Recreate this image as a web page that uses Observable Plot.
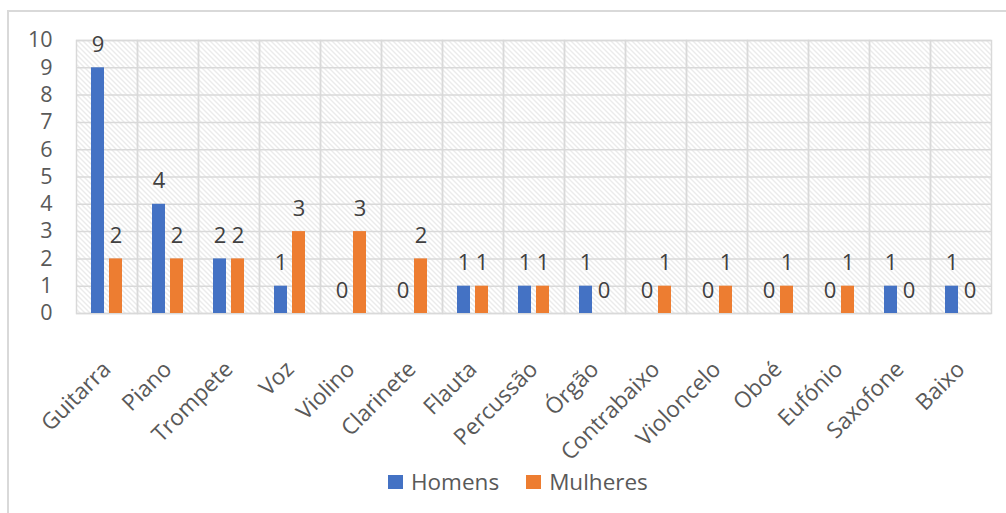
<!DOCTYPE html>
<html>
<head>
<meta charset="utf-8">
<script src="https://cdn.jsdelivr.net/npm/d3@7"></script>
<script src="https://cdn.jsdelivr.net/npm/@observablehq/plot@0.6"></script>
<style>
  html, body { margin: 0; padding: 0; background: #fff; width: 1006px; height: 513px; overflow: hidden; font-family: "Open Sans", sans-serif; }
  #frame { position: absolute; left: 7px; top: 10px; width: 1100px; height: 600px; border-left: 2px solid #d9d9d9; border-top: 2px solid #d9d9d9; }
  #chart { position: absolute; left: 0; top: 0; }
  #legend { position: absolute; left: 388px; top: 468px; display: flex; align-items: center; font-size: 22.5px; color: #595959; line-height: 28px; }
  #legend .sw { width: 15px; height: 14px; display: inline-block; margin-right: 8px; }
  #legend .item { display: flex; align-items: center; margin-right: 27px; }
</style>
</head>
<body>
<div id="frame"></div>
<div id="chart"></div>
<div id="legend"></div>
<script>
const categories = ["Guitarra","Piano","Trompete","Voz","Violino","Clarinete","Flauta","Percussão","Órgão","Contrabaixo","Violoncelo","Oboé","Eufónio","Saxofone","Baixo"];
const series = ["Homens","Mulheres"];
const homens   = [9,4,2,1,0,0,1,1,1,0,0,0,0,1,1];
const mulheres = [2,2,2,3,3,2,1,1,0,1,1,1,1,0,0];
const colors = ["#4472C4","#ED7D31"];
const yTicks = [0,1,2,3,4,5,6,7,8,9,10];

const data = [];
categories.forEach((c, i) => {
  data.push({cat: c, series: series[0], value: homens[i]});
  data.push({cat: c, series: series[1], value: mulheres[i]});
});

const plot = Plot.plot({
  width: 1006,
  height: 460,
  marginLeft: 74,
  marginRight: 13,
  marginTop: 40,
  marginBottom: 147,
  style: {fontFamily: "'Open Sans', sans-serif", fontSize: "22.5px", color: "#595959", background: "transparent", overflow: "visible"},
  fx: {domain: categories, padding: 0, label: null, axis: null},
  x: {domain: series, paddingInner: 0.28, paddingOuter: 0.83, axis: null},
  y: {domain: [0, 10], label: null, axis: null},
  color: {domain: series, range: colors},
  marks: [
    Plot.frame({fill: "url(#hatch)"}),
    Plot.gridY(yTicks, {stroke: "#d9d9d9", strokeOpacity: 1, strokeWidth: 1.5}),
    Plot.frame({stroke: "#d9d9d9", strokeWidth: 1.5}),
    Plot.barY(data, {fx: "cat", x: "series", y: "value", fill: "series"}),
    Plot.text(data, {fx: "cat", x: "series", y: "value", text: d => String(d.value), dy: -23, fill: "#404040", fontSize: 22}),
    Plot.axisY(yTicks, {anchor: "left", tickSize: 0, tickPadding: 24, fontSize: 21.5, label: null}),
    Plot.axisFx({anchor: "bottom", tickRotate: -45, tickSize: 0, tickPadding: 52, fontSize: 22.5, label: null})
  ]
});

const ns = "http://www.w3.org/2000/svg";
const defs = document.createElementNS(ns, "defs");
defs.innerHTML = '<pattern id="hatch" patternUnits="userSpaceOnUse" width="5" height="5">' +
  '<rect width="5" height="5" fill="#ffffff"/>' +
  '<path d="M-1,-1 L6,6 M-1,4 L1,6 M4,-1 L6,1" stroke="#d6d6d6" stroke-width="1"/></pattern>';
plot.insertBefore(defs, plot.firstChild);
document.getElementById("chart").appendChild(plot);

const legend = document.getElementById("legend");
series.forEach((s, i) => {
  const item = document.createElement("div");
  item.className = "item";
  const sw = document.createElement("span");
  sw.className = "sw";
  sw.style.background = colors[i];
  item.appendChild(sw);
  item.appendChild(document.createTextNode(s));
  legend.appendChild(item);
});
</script>
</body>
</html>
